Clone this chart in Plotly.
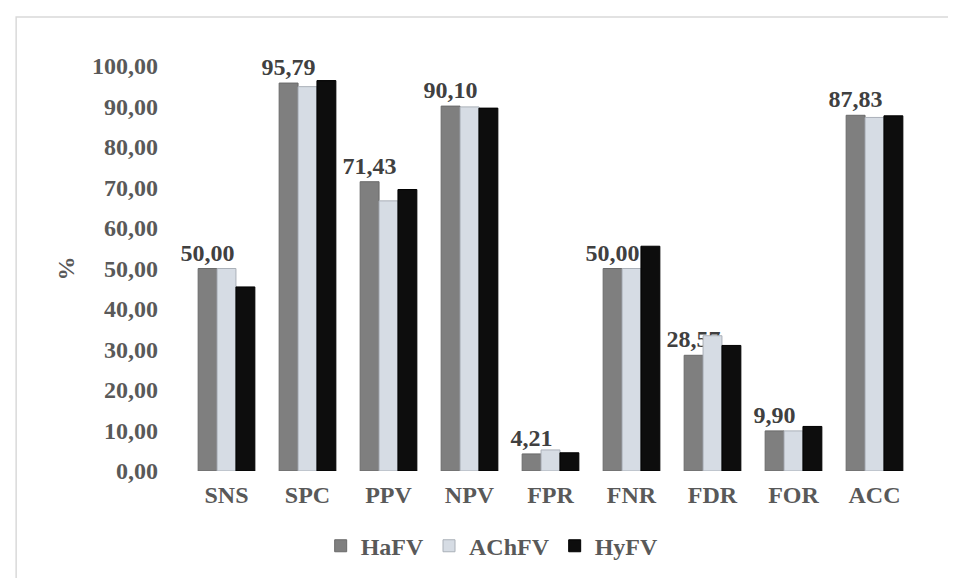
import plotly.graph_objects as go

categories = ["SNS", "SPC", "PPV", "NPV", "FPR", "FNR", "FDR", "FOR", "ACC"]
hafv = [50.00, 95.79, 71.43, 90.10, 4.21, 50.00, 28.57, 9.90, 87.83]
achfv = [50.00, 94.9, 66.7, 89.9, 5.2, 50.00, 33.4, 9.9, 87.3]
hyfv = [45.45, 96.4, 69.5, 89.6, 4.5, 55.5, 31.0, 11.0, 87.7]
y_ticks = [0, 10, 20, 30, 40, 50, 60, 70, 80, 90, 100]
y_tick_labels = ["0,00", "10,00", "20,00", "30,00", "40,00", "50,00",
                 "60,00", "70,00", "80,00", "90,00", "100,00"]
hafv_labels = [f"{v:.2f}".replace(".", ",") for v in hafv]

FONT = "Liberation Serif"
GREY = "#595959"

fig = go.Figure()
fig.add_trace(go.Bar(
    name="HaFV", x=categories, y=hafv,
    marker=dict(color="#7f7f7f", line=dict(color="#6a6a6a", width=1)),
    text=hafv_labels, textposition="outside", cliponaxis=False,
    constraintext="none",
    textfont=dict(family=FONT, size=24, color="#404040", weight="bold"),
))
fig.add_trace(go.Bar(
    name="AChFV", x=categories, y=achfv,
    marker=dict(color="#d6dce4", line=dict(color="#aab0b8", width=1)),
))
fig.add_trace(go.Bar(
    name="HyFV", x=categories, y=hyfv,
    marker=dict(color="#0d0d0d", line=dict(color="#000000", width=1)),
))

fig.update_layout(
    width=956, height=578,
    margin=dict(l=178, r=49, t=58, b=115),
    paper_bgcolor="white", plot_bgcolor="white",
    barmode="group", bargap=0.3, bargroupgap=0,
    font=dict(family=FONT, size=24, color=GREY),
    showlegend=True,
    legend=dict(orientation="h", x=0.42, xanchor="center", y=-0.13, yanchor="top",
                font=dict(family=FONT, size=24, color=GREY, weight="bold"),
                itemwidth=30, traceorder="normal"),
    xaxis=dict(showgrid=False, showline=False, zeroline=False,
               tickfont=dict(family=FONT, size=24, color=GREY, weight="bold"),
               ticklabelstandoff=7),
    yaxis=dict(range=[0, 100], tickvals=y_ticks, ticktext=y_tick_labels,
               showgrid=False, showline=False, zeroline=False,
               tickfont=dict(family=FONT, size=24, color=GREY, weight="bold"),
               ticklabelstandoff=27,
               title=dict(text="%", standoff=10,
                          font=dict(family=FONT, size=24, color=GREY, weight="bold"))),
)

fig.add_shape(type="rect", xref="paper", yref="paper",
              x0=-0.233, x1=1.2, y0=-0.5, y1=1.121,
              line=dict(color="#d9d9d9", width=1.5), layer="below")

fig.write_html("out.html")
